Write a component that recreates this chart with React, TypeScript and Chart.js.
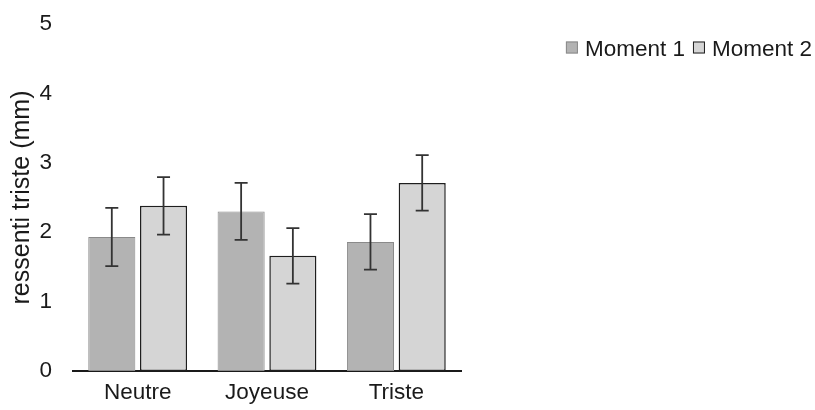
import React, { useEffect, useRef } from "react";
import { Chart, registerables } from "chart.js";

Chart.register(...registerables);

// Mood conditions on the x axis
const categories = ["Neutre", "Joyeuse", "Triste"];
const seriesNames = ["Moment 1", "Moment 2"];

// Mean sadness rating (mm) per condition
const moment1 = [1.93, 2.3, 1.86];
const moment2 = [2.38, 1.66, 2.71];

// Half-length of the error bars
const moment1Err = [0.42, 0.41, 0.4];
const moment2Err = [0.415, 0.4, 0.4];

const yTicks = [0, 1, 2, 3, 4, 5];
const yTitle = "ressenti triste (mm)";

const FONT = "'Liberation Sans', Arial, Helvetica, sans-serif";
const TEXT = "#1a1a1a";
const fills = ["#b3b3b3", "#d5d5d5"];
const strokes = ["#8a8a8a", "#1e1e1e"];

const errorBars = {
  id: "errorBars",
  afterDatasetsDraw(chart: any) {
    const ctx = chart.ctx;
    const y = chart.scales.y;
    const errs = [moment1Err, moment2Err];
    ctx.save();
    ctx.strokeStyle = "#333333";
    ctx.lineWidth = 1.8;
    chart.data.datasets.forEach((ds: any, i: number) => {
      const meta = chart.getDatasetMeta(i);
      meta.data.forEach((bar: any, j: number) => {
        const v = ds.data[j];
        const e = errs[i][j];
        const top = y.getPixelForValue(v + e);
        const bot = y.getPixelForValue(v - e);
        const x = bar.x;
        const cap = 6.5;
        ctx.beginPath();
        ctx.moveTo(x, top);
        ctx.lineTo(x, bot);
        ctx.moveTo(x - cap, top);
        ctx.lineTo(x + cap, top);
        ctx.moveTo(x - cap, bot);
        ctx.lineTo(x + cap, bot);
        ctx.stroke();
      });
    });
    ctx.restore();
  },
};

const sideLegend = {
  id: "sideLegend",
  afterDraw(chart: any) {
    const ctx = chart.ctx;
    ctx.save();
    ctx.font = `22.5px ${FONT}`;
    const box = 12;
    const gapBox = 7;
    const gapItem = 8;
    const widths = seriesNames.map((n) => ctx.measureText(n).width);
    const total =
      widths.reduce((a, w) => a + w + box + gapBox, 0) + gapItem * (seriesNames.length - 1);
    let x = chart.width - 3 - total;
    const cy = 47.5;
    seriesNames.forEach((name, i) => {
      ctx.fillStyle = fills[i];
      ctx.fillRect(x, cy - box / 2, box, box);
      ctx.strokeStyle = strokes[i];
      ctx.lineWidth = 1;
      ctx.strokeRect(x + 0.5, cy - box / 2 + 0.5, box - 1, box - 1);
      x += box + gapBox;
      ctx.fillStyle = TEXT;
      ctx.textBaseline = "alphabetic";
      ctx.textAlign = "left";
      ctx.fillText(name, x, cy + 8.2);
      x += widths[i] + gapItem;
    });
    ctx.restore();
  },
};

export default function App() {
  const canvasRef = useRef<HTMLCanvasElement | null>(null);

  useEffect(() => {
    if (!canvasRef.current) return;
    const chart = new Chart(canvasRef.current, {
      type: "bar",
      data: {
        labels: categories,
        datasets: [
          {
            label: seriesNames[0],
            data: moment1,
            backgroundColor: fills[0],
            borderColor: strokes[0],
            borderWidth: 1,
            borderSkipped: false,
            barPercentage: 0.91,
            categoryPercentage: 0.8,
          },
          {
            label: seriesNames[1],
            data: moment2,
            backgroundColor: fills[1],
            borderColor: strokes[1],
            borderWidth: 1.5,
            borderSkipped: false,
            barPercentage: 0.91,
            categoryPercentage: 0.8,
          },
        ],
      },
      options: {
        animation: false,
        responsive: false,
        maintainAspectRatio: false,
        layout: { padding: { top: 24, right: 354, left: 0, bottom: 0 } },
        plugins: {
          legend: { display: false },
          tooltip: { enabled: false },
        },
        scales: {
          x: {
            z: 1,
            grid: { display: false, drawTicks: false },
            border: { display: true, color: "#1a1a1a", width: 2 },
            ticks: {
              color: TEXT,
              font: { family: FONT, size: 22.5 },
              padding: 8,
            },
            afterFit(scale: any) {
              scale.height = 39;
            },
          },
          y: {
            min: 0,
            max: 5,
            afterBuildTicks(scale: any) {
              scale.ticks = yTicks.map((v) => ({ value: v }));
            },
            grid: { display: false, drawTicks: false },
            border: { display: false },
            ticks: {
              color: TEXT,
              font: { family: FONT, size: 22.5 },
              padding: 21,
            },
            title: {
              display: true,
              text: yTitle,
              color: TEXT,
              font: { family: FONT, size: 25 },
              padding: { top: 7, bottom: 0 },
            },
            afterFit(scale: any) {
              scale.width = 73;
              scale.paddingTop = 0;
              scale.paddingBottom = 0;
            },
          },
        },
      },
      plugins: [errorBars, sideLegend],
    });
    return () => chart.destroy();
  }, []);

  return (
    <div style={{ position: "absolute", left: 0, top: 0, width: 815, height: 410, background: "#fff" }}>
      <canvas ref={canvasRef} width={815} height={410} />
    </div>
  );
}
